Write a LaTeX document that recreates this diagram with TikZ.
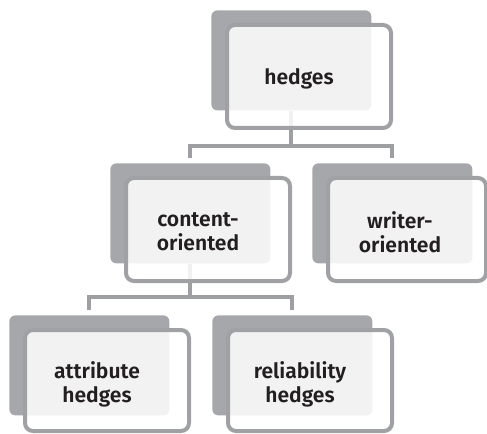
\documentclass[tikz,border=0pt]{standalone}
\usepackage{fontspec}
\setmainfont{Fira Sans}[BoldFont={Fira Sans SemiBold}]
\usetikzlibrary{calc,backgrounds}
\definecolor{kartgrau}{HTML}{A6A7AB}
\definecolor{randgrau}{HTML}{A0A1A5}
\definecolor{linkgrau}{HTML}{9E9FA3}
\definecolor{schrift}{HTML}{231F20}
\tikzset{
  card/.style={rectangle,rounded corners=0.12cm,fill=kartgrau,minimum width=3.2cm,minimum height=2cm,inner sep=0pt,anchor=north west},
  panel/.style={draw=randgrau,line width=0.08cm,rounded corners=0.16cm,fill=white,fill opacity=0.86},
  lbl/.style={text=schrift,align=center,inner sep=0pt,font=\bfseries\fontsize{12}{13.6}\selectfont},
  link/.style={linkgrau,line width=0.085cm},
}
\begin{document}
\begin{tikzpicture}
  \useasboundingbox (0,0) rectangle (9.74,8.66);
  % cards: gray back card, framed panel in front, label
  \foreach \n/\x/\y/\w/\h/\t in {
    hedges/4.22/8.46/3.28/2.06/{hedges},
    content/2.20/5.40/3.28/2.06/{content-\\oriented},
    writer/6.24/5.40/3.16/2.06/{writer-\\oriented},
    attribute/0.18/2.36/3.28/2.02/{attribute\\hedges},
    reliability/4.24/2.36/3.28/2.02/{reliability\\hedges}}
  {
    \node[card] (\n) at (\x,\y) {};
    \draw[panel] ($(\n.north west)+(0.32,-0.30)$) rectangle ++(\w,-\h);
    \node[lbl] (\n-t) at ($(\n.north west)+(1.76,-1.38)$) {\t};
  }
  % tree links behind the panels
  \begin{pgfonlayer}{background}
    \draw[link] (hedges.south) -- ++(0,-0.71) -| ([yshift=1mm]content.north);
    \draw[link] (hedges.south) -- ++(0,-0.71) -| ([yshift=1mm]writer.north);
    \draw[link] (content.south) -- ++(0,-0.66) -| ([yshift=1mm]attribute.north);
    \draw[link] (content.south) -- ++(0,-0.66) -| ([yshift=1mm]reliability.north);
  \end{pgfonlayer}
\end{tikzpicture}
\end{document}
